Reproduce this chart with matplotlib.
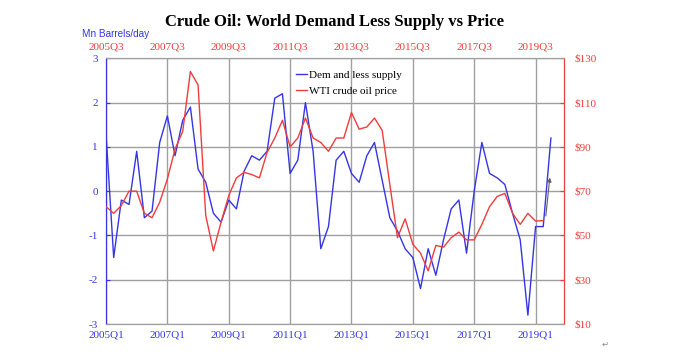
import numpy as np
import matplotlib
matplotlib.use("Agg")
import matplotlib.pyplot as plt

# quarterly, 2005Q1 .. 2019Q3
demand_less_supply = [1.3, -1.5, -0.2, -0.3, 0.9, -0.6, -0.45, 1.1, 1.7, 0.8,
                      1.6, 1.9, 0.5, 0.2, -0.5, -0.7, -0.2, -0.4, 0.45, 0.8,
                      0.7, 0.9, 2.1, 2.2, 0.4, 0.7, 2.0, 0.9, -1.3, -0.8,
                      0.7, 0.9, 0.4, 0.2, 0.8, 1.1, 0.25, -0.6, -0.9, -1.3,
                      -1.5, -2.2, -1.3, -1.9, -1.1, -0.4, -0.2, -1.4, 0.0, 1.1,
                      0.4, 0.3, 0.15, -0.5, -1.1, -2.8, -0.8, -0.8, 1.2]
# WTI $/bbl, 2005Q1 .. 2019Q2
wti_price = [63, 60, 63.5, 70, 70, 60, 58, 65, 75.5, 89,
             97, 124, 118, 59, 43, 56, 68, 76, 78.5, 77.5,
             76, 87.5, 94, 102, 90, 94, 103, 94, 92, 88,
             94, 94, 105.5, 98, 99, 103, 97.5, 73, 49, 57.5,
             46, 42, 34, 45.5, 44.7, 49, 51.5, 48, 48, 55,
             63, 67.6, 69, 60, 55, 60, 56.5, 56.7]

bottom_labels = ["2005Q1", "2007Q1", "2009Q1", "2011Q1",
                 "2013Q1", "2015Q1", "2017Q1", "2019Q1"]
top_labels = ["2005Q3", "2007Q3", "2009Q3", "2011Q3",
              "2013Q3", "2015Q3", "2017Q3", "2019Q3"]
left_ticks = [-3, -2, -1, 0, 1, 2, 3]
right_ticks = [10, 30, 50, 70, 90, 110, 130]

BLUE = "#3535e6"
RED = "#f03c3c"
GRID = "#a0a0a0"
SERIF = ["Liberation Serif", "DejaVu Serif"]

plt.rcParams["font.family"] = SERIF

fig = plt.figure(figsize=(6.92, 3.6), dpi=100)
ax = fig.add_axes([0.1532, 0.1, 0.6623, 0.738])
ax2 = ax.twinx()

q = np.arange(len(demand_less_supply))
qp = np.arange(len(wti_price))
tick_pos = np.arange(0, 8 * len(bottom_labels), 8)

l1, = ax.plot(q, demand_less_supply, color=BLUE, lw=1.0, zorder=3,
              label="Dem and less supply")
l2, = ax2.plot(qp, wti_price, color=RED, lw=1.0, zorder=3,
               label="WTI crude oil price")

ax.set_xlim(0, 59.75)
ax.set_ylim(-3, 3)
ax2.set_ylim(10, 130)

ax.set_xticks(tick_pos, bottom_labels)
ax.set_yticks(left_ticks, [str(t) for t in left_ticks])
ax2.set_yticks(right_ticks, ["$%d" % t for t in right_ticks])

ax.grid(True, color=GRID, lw=1.0)
ax.set_axisbelow(True)

ax.tick_params(axis="x", length=0, labelsize=8, labelcolor=BLUE, pad=5)
ax.tick_params(axis="y", direction="in", length=3, color=BLUE,
               labelsize=8, labelcolor=BLUE, pad=6)
ax2.tick_params(axis="y", direction="in", length=3, color=RED,
                labelsize=8, labelcolor=RED, pad=7)

sec = ax.secondary_xaxis("top")
sec.set_xticks(tick_pos, top_labels)
sec.tick_params(length=0, labelsize=8, labelcolor=RED, pad=5)
sec.spines["top"].set_visible(False)

for a in (ax, ax2):
    a.spines["top"].set_color(GRID)
    a.spines["bottom"].set_color(GRID)
    a.spines["left"].set_color(BLUE)
    a.spines["right"].set_color(RED)

# hand-drawn pointer near the last quarter
ax.annotate("", xy=(57.9, 0.37), xytext=(57.3, -0.62),
            arrowprops=dict(arrowstyle="-|>", color="#606060", lw=0.8,
                            mutation_scale=6), zorder=4)

ax.legend(handles=[l1, l2], loc="upper left", bbox_to_anchor=(0.397, 0.985),
          frameon=False, fontsize=8, handlelength=1.0, handletextpad=0.2,
          labelspacing=0.6, borderaxespad=0.3)

fig.text(0.483, 0.94, "Crude Oil: World Demand Less Supply vs Price",
         ha="center", va="center", fontsize=12, fontweight="bold")
fig.text(0.118, 0.906, "Mn Barrels/day", ha="left", va="center", fontsize=7.2,
         color=BLUE, family=["Liberation Sans", "DejaVu Sans"])
fig.text(0.875, 0.045, "\u21b5", ha="center", va="center", fontsize=6,
         color="#888888", family=["DejaVu Sans"])

fig.savefig("out.png", dpi=100)
